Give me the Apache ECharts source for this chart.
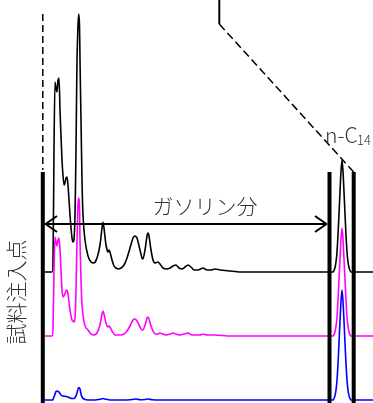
<!DOCTYPE html>
<html>
<head>
<meta charset="utf-8">
<script src="https://cdn.jsdelivr.net/npm/echarts@6/dist/echarts.min.js"></script>
<style>
html,body{margin:0;padding:0;background:#fff;}
#c{width:373px;height:403px;}
</style>
</head>
<body>
<div id="c"></div>
<script>
// Retention-time positions (chart units) and signal heights above each trace baseline
const blackX = [45,52,53,54,55,56,57,58,59,60,62,64,65,66,67,68,70,72,73,74,75,76,77,78,78.7,79.5,80,81,82,83,85,88,91,94,97,100,102,103,104,106,108,109,110,112,114,116,118,121,124,127,130,133,135,137,140,142,143,145,147,148,149,151,153,155,158,160,163,167,170,173,176,179,182,185,188,191,194,198,203,207,211,215,220,230,240,333,334,335,336,337,338,339,340,341,342,343,344,345,346,347,348,349,350,351,373];
const blackY = [0,0,10,122,190,184,180,192,194,162,112,87,89,94,95,87,57,34,30,32,57,122,212,247,258,247,212,152,92,57,32,16,10,9,14,27,44,50,44,27,20,22,20,12,6,4,3,4,7,14,24,34,36,34,22,14,13,22,36,39,36,22,12,9,10,8,4,3,4,6,7,4,3,5,7,5,2,2,4,2,2,3,2,1,0,0,1.5,4.5,10,20,37,58,80,101,112,101,80,58,37,20,10,4.5,1.5,0,0];

const magentaX = [45,52,53,54,55,56,57,58,59,60,61,62,63,64,66,67,68,70,72,74,75,76,77,78,78.7,79.5,80,81,82,84,86,88,91,94,97,100,102,103,104,106,108,109,110,112,115,118,121,124,127,130,133,135,137,140,142,143,145,147,148,149,151,153,155,158,160,163,167,170,173,176,180,184,188,192,196,200,203,207,215,230,333,334,335,336,337,338,339,340,341,342,343,344,345,346,347,348,349,350,351,373];
const magentaY = [0,0,8,66,99,94,90,96,98,86,66,46,39,40,45,46,42,26,16,14,18,46,96,131,138,131,96,56,31,14,8,6,2,1,3,11,22,25,22,13,9,10,9,5,1,1,1,2,5,10,16,17,15,9,6,6,11,18,19,17,10,5,2,2,3,2,1,2,3,2,1,2,3,1,1,1,2,1,1,0,0,1.4,4.3,9.6,19,36,56,77,97,108,97,77,56,36,19,9.6,4.3,1.4,0,0];

const blueX = [45,52,53,54,55,56,57,58,59,61,63,66,68,70,72,74,76,77,78,79,80,81,82,84,88,95,100,103,106,110,125,130,136,140,145,148,152,160,333,334,335,336,337,338,339,340,341,342,343,344,345,346,347,348,349,350,351,373];
const blueY = [0,0,0.5,3,6,8.5,9,8.5,8,5,4,3.5,3,2,1.5,1.5,4,7,11,12.5,11,6,3,1,0,0,0.7,1.5,0.7,0,0,0.3,1,0.3,0.5,1,0.3,0,0,1.5,4.4,9.8,20,36,57,79,99,110,99,79,57,36,20,9.8,4.4,1.5,0,0];

// Baseline offsets of the three stacked chromatograms
const blackBase = 131;
const magentaBase = 67;
const blueBase = 3;

// Marker positions: sample injection point and the two n-C14 window lines
const markerX = [42.8, 329.5, 353.7];
const markerTop = 231;

// Annotation geometry (chart units)
const injDashed = [[42.8, 389], [42.8, 233]];
const topSolid = [[219.3, 403], [219.3, 379]];
const diagDashed = [[219.3, 379], [353.7, 231]];
const arrowLine = [[45, 179], [327, 179]];
const arrowLeftHead = [[57, 187], [45.5, 179], [57, 171]];
const arrowRightHead = [[315, 187], [326.5, 179], [315, 171]];

const texts = { gasoline: 'ガソリン分', nc: 'n-C', ncSub: '14', inj: '試料注入点' };

const toPts = (xs, hs, off) => xs.map((x, i) => [x, hs[i] + off]);

const lineSeries = (data, color, width, type, z, smooth) => ({
  type: 'line', data, showSymbol: false, symbol: 'none', silent: true,
  animation: false, z: z || 2, smooth: smooth || false,
  lineStyle: { color, width, type: type || 'solid', cap: 'butt', join: 'round' }
});

const series = [
  lineSeries(toPts(blackX, blackY, blackBase), '#000000', 1.6, 'solid', 2, 0.2),
  lineSeries(toPts(magentaX, magentaY, magentaBase), '#ff00ff', 1.6, 'solid', 2, 0.2),
  lineSeries(toPts(blueX, blueY, blueBase), '#0000ff', 1.6, 'solid', 2, 0.2),
];
markerX.forEach(x => series.push(lineSeries([[x, 0], [x, markerTop]], '#000000', 4, 'solid', 5)));
series.push(lineSeries(injDashed, '#000000', 1.5, [7, 4], 4));
series.push(lineSeries(topSolid, '#000000', 2, 'solid', 4));
series.push(lineSeries(diagDashed, '#000000', 1.5, [8, 4], 4));
series.push(lineSeries(arrowLine, '#000000', 2, 'solid', 4));
series.push(lineSeries(arrowLeftHead, '#000000', 2, 'solid', 4));
series.push(lineSeries(arrowRightHead, '#000000', 2, 'solid', 4));

const chart = echarts.init(document.getElementById('c'), null, { renderer: 'canvas' });
const font = '"Noto Sans CJK JP", "Noto Sans", sans-serif';
chart.setOption({
  animation: false,
  grid: { left: 0, right: 0, top: 0, bottom: 0 },
  xAxis: { type: 'value', min: 0, max: 373, show: false },
  yAxis: { type: 'value', min: 0, max: 403, show: false },
  series,
  graphic: [
    { type: 'text', x: 205, y: 206, z: 10,
      style: { text: texts.gasoline, fontSize: 21, fontFamily: font, fontWeight: 300, fill: '#333', align: 'center', verticalAlign: 'middle' } },
    { type: 'text', x: 325, y: 135, z: 10,
      style: { text: texts.nc, fontSize: 21, fontFamily: font, fontWeight: 300, fill: '#333', align: 'left', verticalAlign: 'middle' } },
    { type: 'text', x: 357, y: 140, z: 10,
      style: { text: texts.ncSub, fontSize: 13, fontFamily: font, fontWeight: 300, fill: '#333', align: 'left', verticalAlign: 'middle' } },
    { type: 'text', x: 16, y: 292, rotation: Math.PI / 2, z: 10,
      style: { text: texts.inj, fontSize: 21, fontFamily: font, fontWeight: 300, fill: '#333', align: 'center', verticalAlign: 'middle' } }
  ]
});
</script>
</body>
</html>
